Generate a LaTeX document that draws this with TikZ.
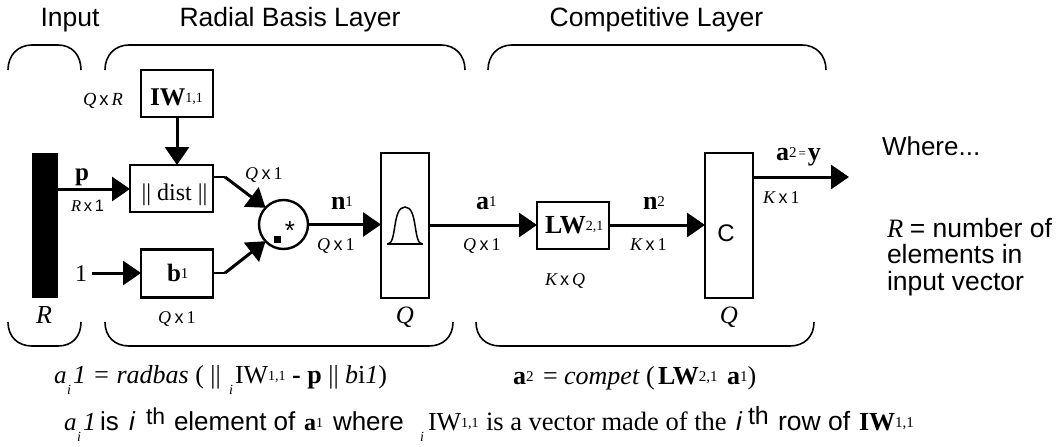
\documentclass[tikz,border=0pt]{standalone}
\usepackage{fontspec}
\setmainfont{Liberation Serif}
\setsansfont{Liberation Sans}
\usetikzlibrary{arrows.meta}
\newcommand\fz[1]{\fontsize{#1}{#1}\selectfont}
\newcommand\sps[2][15]{{\fz{#1}\normalfont\raisebox{2.5pt}{#2}}}
\newcommand\bb{\bfseries}
\newcommand\dimx[2]{{\itshape #1}\hspace{3.5pt}{\normalfont\sffamily x}\,#2}
\newcommand\Tw[5]{\node[txt,anchor=base west] (#1) at (#2,#3) {\fz{#4}#5};}
\newcommand\Tc[5]{\node[txt,anchor=base] (#1) at (#2,#3) {\fz{#4}#5};}
\tikzset{
  x=1pt,y=-1pt,
  txt/.style={inner sep=0pt,outer sep=0pt,text=black},
  blk/.style={draw=black,line width=2.4pt,fill=white,inner sep=0pt,outer sep=0pt,rectangle},
  wire/.style={line width=3pt,line join=miter,-{Triangle[length=18pt,width=24pt]}},
  brace/.style={line width=1.6pt},
}
\begin{document}
\begin{tikzpicture}
\useasboundingbox (0,0) rectangle (1063,447);
% blocks
\node[fill=black,inner sep=0pt,minimum width=26pt,minimum height=145pt,anchor=north west] (bar) at (32,153) {};
\node[blk,minimum width=72pt,minimum height=47pt] (iw) at (177,93.5) {};
\node[blk,minimum width=83pt,minimum height=47pt] (dist) at (171.5,188.5) {};
\node[blk,minimum width=72pt,minimum height=48pt] (bb) at (177,273.5) {};
\node[blk,circle,minimum size=49pt] (dot) at (283.5,224.5) {};
\node[blk,minimum width=48pt,minimum height=145pt] (rad) at (405,225.5) {};
\node[blk,minimum width=72pt,minimum height=47pt] (lw) at (573,225.5) {};
\node[blk,minimum width=48pt,minimum height=145pt] (comp) at (729,225.5) {};
% free ends
\coordinate (one) at (92,273);
\coordinate (out) at (849,177);
\coordinate (d1) at (225,177);
\coordinate (b1) at (225,273);
% connectors
\draw[wire] (bar.east |- 0,189) -- (dist.west |- 0,189);
\draw[wire] (iw.south) -- (dist.north -| iw.south);
\draw[wire] (one) -- (bb.west |- one);
\draw[line width=2.4pt] (dist.east |- d1) -- (d1);
\draw[wire] (d1) -- (dot.137);
\draw[line width=2.4pt] (bb.east |- b1) -- (b1);
\draw[wire] (b1) -- (dot.223);
\draw[wire] (dot.east) -- (rad.west |- dot.east);
\draw[wire] (rad.east |- 0,225) -- (lw.west |- 0,225);
\draw[wire] (lw.east |- 0,225) -- (comp.west |- 0,225);
\draw[wire] (comp.east |- out) -- (out);
% braces
\draw[brace] (8,70) .. controls (8,55) and (18,45) .. (32,45) -- (58,45) .. controls (72,45) and (81,55) .. (81,70);
\draw[brace] (105,70) .. controls (105,55) and (115,45) .. (129,45) -- (441,45) .. controls (455,45) and (465,55) .. (465,70);
\draw[brace] (488,70) .. controls (488,55) and (498,45) .. (512,45) -- (802,45) .. controls (816,45) and (826,55) .. (826,70);
\draw[brace] (8,322) .. controls (8,337) and (18,346) .. (32,346) -- (58,346) .. controls (72,346) and (81,337) .. (81,322);
\draw[brace] (105,322) .. controls (105,337) and (115,346) .. (129,346) -- (429,346) .. controls (443,346) and (453,337) .. (453,322);
\draw[brace] (476,322) .. controls (476,337) and (486,346) .. (500,346) -- (790,346) .. controls (804,346) and (814,337) .. (814,322);
% bell and dot-star glyphs
\draw[line width=1.5pt] (387,244) -- (423,244);
\draw[line width=1.5pt] (388,244) .. controls (397,243) and (392,207) .. (405,207) .. controls (418,207) and (413,243) .. (422,244);
\node[fill=black,inner sep=0pt,minimum size=7pt] (sq) at (277.5,239.5) {};
\node[txt] (star) at (290,230.5) {\fz{26}\sffamily *};
\node[txt] (cc) at (726,233) {\fz{24}\sffamily C};
% headings
\Tc{hA}{70}{27}{26.5}{\sffamily Input}
\Tc{hB}{290}{27}{26.5}{\sffamily Radial Basis Layer}
\Tc{hC}{656.5}{27}{26.5}{\sffamily Competitive Layer}
% block labels
\Tw{qr}{83}{105}{18.5}{\itshape Q\hspace{3pt}\normalfont\sffamily x\,\rmfamily\itshape R}
\Tw{iwl}{150}{105}{25.5}{\bb IW\sps[14]{1,1}}
\Tc{pl}{82}{180}{25}{\bb p}
\Tw{rx}{71}{211}{16.5}{\itshape R\,\normalfont\sffamily x\,1}
\Tw{qx}{245}{179}{18}{\dimx{Q}{1}}
\Tc{dl}{174.5}{200}{24}{|| dist ||}
\Tw{n1}{331}{209}{26}{\bb n\sps{1}}
\Tw{qxa}{317}{250}{18}{\dimx{Q}{1}}
\Tw{a1}{476}{209}{26}{\bb a\sps{1}}
\Tw{qxb}{463}{250}{18}{\dimx{Q}{1}}
\Tw{lwl}{545}{233}{26}{\bb LW\sps[14]{2,1}}
\Tw{n2}{643}{209}{26}{\bb n\sps{2}}
\Tw{kx}{630}{250}{18}{\dimx{K}{1}}
\Tw{kq}{545}{285}{18}{\itshape K\,\normalfont\sffamily x\,\rmfamily\itshape Q}
\Tc{onel}{81}{281}{24}{1}
\Tw{bl}{167}{281}{25}{\bb b\sps{1}}
\Tw{qxc}{158}{323}{18}{\dimx{Q}{1}}
\Tc{rl}{44}{323}{26}{\itshape R}
\Tc{q1}{405}{323}{25}{\itshape Q}
\Tc{q2}{729}{323}{25}{\itshape Q}
\Tw{a2}{776}{160}{26}{\bb a\sps{2}\sps[13]{\hspace{2pt}=\hspace{2pt}}y}
\Tw{kxo}{763}{203}{18}{\dimx{K}{1}}
% right note
\Tw{wh}{882}{155}{26}{\sffamily Where...}
\Tw{nA}{887}{237}{26.5}{\rmfamily\itshape R \normalfont\sffamily = number of}
\Tw{nB}{887}{263}{26.5}{\sffamily elements in}
\Tw{nC}{887}{290}{26.5}{\sffamily input vector}
% equation 1
\Tw{e1}{54}{383}{25}{\itshape a}
\Tw{e1i}{67}{394}{14}{\itshape i}
\Tw{e1b}{73}{383}{26}{\itshape 1 = radbas \normalfont( || }
\Tw{e1j}{229}{394}{14}{\itshape i}
\Tw{e1c}{235}{383}{26}{IW\sps[14]{1,1} {\bb - p} || {\itshape b}i{\itshape 1})}
% equation 2
\Tw{e2a}{513}{384}{26}{{\bb a}\sps[15]{2}}
\Tw{e2b}{543}{384}{26}{= {\itshape compet}}
\Tw{e2c}{646}{384}{26}{(}
\Tw{e2d}{658}{384}{26}{{\bb LW}\sps[15]{2,1}}
\Tw{e2e}{727}{384}{26}{{\bb a}\sps[15]{1})}
% line 3
\Tw{f1}{64}{430}{25}{\itshape a}
\Tw{f1i}{77}{441}{14}{\itshape i}
\Tw{f1b}{83}{430}{26}{\itshape 1}
\Tw{f2}{100}{430}{26}{\sffamily is}
\Tw{f2i}{129}{430}{26}{\sffamily\itshape i}
\Tw{f3}{146}{424}{23}{\sffamily th}
\Tw{f4}{174}{430}{26}{\sffamily element of}
\Tw{f5}{304}{430}{24}{{\bb a}\sps[14]{1}}
\Tw{f6}{333}{430}{26}{\sffamily where}
\Tw{f7}{420}{441}{14}{\itshape i}
\Tw{f8}{428}{430}{26}{IW\sps[14]{1,1}}
\Tw{f9}{486}{430}{26.5}{is a vector made of the}
\Tw{f10}{736}{430}{26}{\sffamily\itshape i}
\Tw{f11}{748}{424}{25}{\sffamily th}
\Tw{f12}{778}{430}{26.5}{\sffamily row of}
\Tw{f13}{859}{430}{26}{{\bb IW}\sps[15]{1,1}}
\end{tikzpicture}
\end{document}
